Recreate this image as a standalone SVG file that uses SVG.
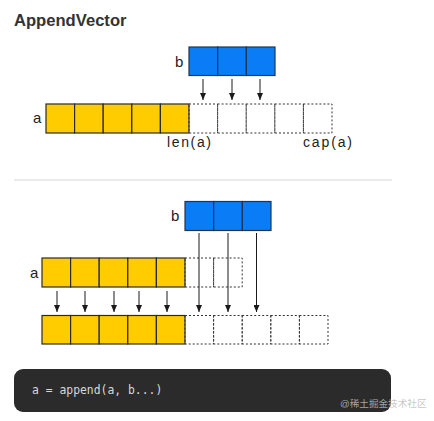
<svg xmlns="http://www.w3.org/2000/svg" width="434" height="421" viewBox="0 0 434 421">
<defs>
<marker id="ah" markerUnits="userSpaceOnUse" markerWidth="7" markerHeight="6" refX="7" refY="3" orient="auto">
<path d="M0,0 L7,3 L0,6 z" fill="#1a1a1a"/>
</marker>
<style>
.y{fill:#FFCC00;stroke:#2a2a2a;stroke-width:1.2}
.bl{fill:#0A7DF6;stroke:#1f3550;stroke-width:1.2}
.d{fill:none;stroke:#333;stroke-width:1;stroke-dasharray:2 2}
.lbl{font-family:"Liberation Sans",Arial,sans-serif;font-size:15px;fill:#222}
.mk{font-family:"Liberation Sans",Arial,sans-serif;font-size:14px;fill:#222}
.ar{stroke:#1a1a1a;stroke-width:1;fill:none;marker-end:url(#ah)}
</style>
</defs>
<rect width="434" height="421" fill="#fff"/>
<text x="14" y="26" font-family="Liberation Sans,Arial,sans-serif" font-weight="bold" font-size="16.6" fill="#333">AppendVector</text>

<g id="top-b">
<text class="lbl" x="175" y="67">b</text>
<rect class="bl" x="189" y="47" width="28.67" height="28.5"/>
<rect class="bl" x="217.67" y="47" width="28.67" height="28.5"/>
<rect class="bl" x="246.33" y="47" width="28.67" height="28.5"/>
</g>
<g id="top-a">
<text class="lbl" x="33" y="123">a</text>
<rect class="y" x="46" y="104" width="28.6" height="29"/>
<rect class="y" x="74.6" y="104" width="28.6" height="29"/>
<rect class="y" x="103.2" y="104" width="28.6" height="29"/>
<rect class="y" x="131.8" y="104" width="28.6" height="29"/>
<rect class="y" x="160.4" y="104" width="28.6" height="29"/>
<rect class="d" x="189" y="104" width="28.6" height="29"/>
<rect class="d" x="217.6" y="104" width="28.6" height="29"/>
<rect class="d" x="246.2" y="104" width="28.6" height="29"/>
<rect class="d" x="274.8" y="104" width="28.6" height="29"/>
<rect class="d" x="303.4" y="104" width="28.6" height="29"/>
<text class="mk" x="167" y="147" textLength="44" lengthAdjust="spacing">len(a)</text>
<text class="mk" x="303" y="147" textLength="49" lengthAdjust="spacing">cap(a)</text>
</g>
<g id="top-connectors">
<line class="ar" x1="203" y1="79" x2="203" y2="100"/>
<line class="ar" x1="232" y1="79" x2="232" y2="100"/>
<line class="ar" x1="260" y1="79" x2="260" y2="100"/>
</g>

<line x1="14" y1="180" x2="392" y2="180" stroke="#e3e3e3" stroke-width="1.5"/>

<g id="bottom-b">
<text class="lbl" x="171" y="221">b</text>
<rect class="bl" x="185" y="201.5" width="28.67" height="29"/>
<rect class="bl" x="213.67" y="201.5" width="28.67" height="29"/>
<rect class="bl" x="242.33" y="201.5" width="28.67" height="29"/>
</g>
<g id="bottom-a">
<text class="lbl" x="30" y="278">a</text>
<rect class="y" x="42" y="258" width="28.6" height="29"/>
<rect class="y" x="70.6" y="258" width="28.6" height="29"/>
<rect class="y" x="99.2" y="258" width="28.6" height="29"/>
<rect class="y" x="127.8" y="258" width="28.6" height="29"/>
<rect class="y" x="156.4" y="258" width="28.6" height="29"/>
<rect class="d" x="185" y="258" width="28.6" height="29"/>
<rect class="d" x="213.6" y="258" width="28.6" height="29"/>
</g>
<g id="result">
<rect class="y" x="42" y="315.5" width="28.6" height="28.5"/>
<rect class="y" x="70.6" y="315.5" width="28.6" height="28.5"/>
<rect class="y" x="99.2" y="315.5" width="28.6" height="28.5"/>
<rect class="y" x="127.8" y="315.5" width="28.6" height="28.5"/>
<rect class="y" x="156.4" y="315.5" width="28.6" height="28.5"/>
<rect class="d" x="185" y="315.5" width="28.6" height="28.5"/>
<rect class="d" x="213.6" y="315.5" width="28.6" height="28.5"/>
<rect class="d" x="242.2" y="315.5" width="28.6" height="28.5"/>
<rect class="d" x="270.8" y="315.5" width="28.6" height="28.5"/>
<rect class="d" x="299.4" y="315.5" width="28.6" height="28.5"/>
</g>
<g id="bottom-connectors">
<line class="ar" x1="199" y1="233" x2="199" y2="312"/>
<line class="ar" x1="228" y1="233" x2="228" y2="312"/>
<line class="ar" x1="256.5" y1="233" x2="256.5" y2="312"/>
<line class="ar" x1="57" y1="291" x2="57" y2="312"/>
<line class="ar" x1="85" y1="291" x2="85" y2="312"/>
<line class="ar" x1="114" y1="291" x2="114" y2="312"/>
<line class="ar" x1="139" y1="291" x2="139" y2="312"/>
<line class="ar" x1="167" y1="291" x2="167" y2="312"/>
</g>

<g id="code">
<rect x="14" y="369" width="377" height="43" rx="9" fill="#2b2b2b"/>
<text x="32" y="394" font-family="DejaVu Sans Mono,Liberation Mono,monospace" font-size="11.4" fill="#d8d8d8" xml:space="preserve">a = append(a, b...)</text>
</g>
<text x="340" y="407" font-family="Liberation Sans,Noto Sans CJK SC,sans-serif" font-size="9.6" fill="#bdbdbd" fill-opacity="0.85">@稀土掘金技术社区</text>
</svg>
